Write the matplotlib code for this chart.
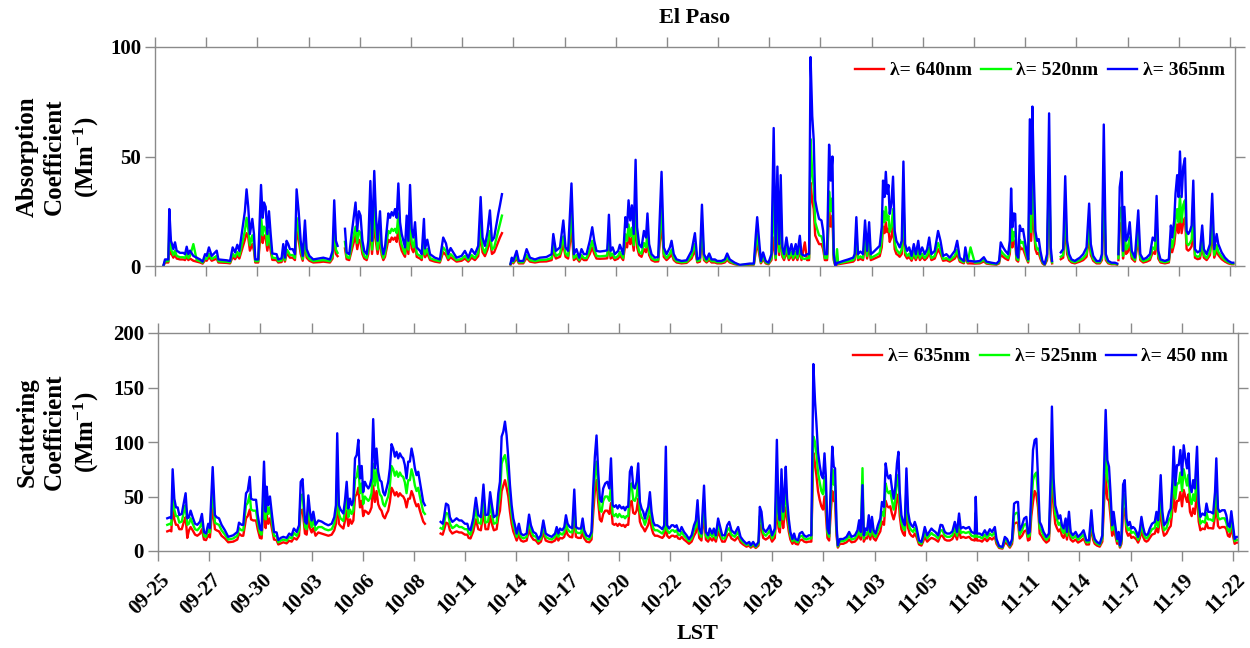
import numpy as np
import matplotlib
matplotlib.use('Agg')
import matplotlib.pyplot as plt
import matplotlib.transforms as mtransforms

nan = np.nan

# days since 09-25 00:00 LST, values in Mm-1
abs_day = [0.45, 0.54, 0.72, 0.77, 0.86, 0.92, 0.99, 1.08, 1.17, 1.35,
           1.53, 1.62, 1.71, 1.80, 1.89, 2.07, 2.25, 2.43, 2.57, 2.70,
           2.79, 2.91, 3.06, 3.33, 3.42, 3.87, 4.05, 4.19, 4.32, 4.44,
           4.55, 4.73, 4.85, 4.94, 5.03, 5.12, 5.25, 5.34, 5.41, 5.57,
           5.72, 5.81, 5.88, 5.97, 6.06, 6.15, 6.24, 6.33, 6.56, 6.65,
           6.83, 6.92, 7.01, 7.10, 7.19, 7.28, 7.43, 7.55, 7.64, 7.75,
           7.86, 7.97, 8.09, 8.18, 8.33, 8.54, 8.90, 9.08, 9.44, 9.58,
           9.67, 9.76, 9.85, 10.05, 10.25, 10.34, 10.48, 10.61, 10.82, 10.91,
           11.00, 11.09, 11.19, 11.29, 11.42, 11.51, 11.62, 11.71, 11.83, 11.92,
           12.01, 12.14, 12.23, 12.32, 12.41, 12.59, 12.68, 12.77, 12.86, 12.95,
           13.04, 13.13, 13.22, 13.31, 13.40, 13.49, 13.58, 13.67, 13.76, 13.85,
           13.94, 14.03, 14.12, 14.30, 14.39, 14.51, 14.57, 14.69, 14.84, 15.10,
           15.37, 15.55, 15.70, 15.82, 15.95, 16.09, 16.27, 16.54, 16.72, 16.90,
           17.08, 17.26, 17.44, 17.57, 17.67, 17.80, 17.94, 18.07, 18.18, 18.30,
           18.52, 18.61, 18.72, 18.95, 19.18, 19.25, 19.33, 19.51, 19.63, 19.87,
           20.05, 20.23, 20.50, 20.76, 21.12, 21.40, 21.49, 21.63, 21.85, 22.03,
           22.15, 22.29, 22.47, 22.60, 22.74, 22.89, 23.01, 23.14, 23.28, 23.46,
           23.59, 23.70, 23.82, 24.00, 24.27, 24.40, 24.49, 24.58, 24.69, 24.81,
           24.99, 25.08, 25.26, 25.38, 25.47, 25.55, 25.64, 25.73, 25.83, 25.93,
           26.01, 26.12, 26.25, 26.38, 26.49, 26.57, 26.66, 26.79, 26.97, 27.15,
           27.33, 27.45, 27.60, 27.78, 27.87, 27.99, 28.14, 28.41, 28.68, 28.86,
           28.95, 29.13, 29.26, 29.40, 29.51, 29.62, 29.76, 29.90, 30.03, 30.21,
           30.33, 30.56, 30.74, 30.87, 31.01, 31.28, 31.55, 31.82, 32.09, 32.31,
           32.42, 32.49, 32.58, 32.69, 32.81, 32.95, 33.10, 33.26, 33.38, 33.49,
           33.58, 33.68, 33.76, 33.85, 33.94, 34.07, 34.20, 34.34, 34.43, 34.57,
           34.66, 34.79, 34.88, 35.06, 35.18, 35.29, 35.37, 35.46, 35.54, 35.62,
           35.72, 35.83, 35.96, 36.05, 36.14, 36.26, 36.37, 36.46, 36.55, 36.62,
           36.71, 36.80, 36.86, 37.13, 37.40, 37.67, 37.75, 37.84, 37.93, 38.06,
           38.20, 38.31, 38.42, 38.53, 38.62, 38.74, 38.92, 39.10, 39.21, 39.28,
           39.36, 39.43, 39.50, 39.57, 39.64, 39.73, 39.82, 39.91, 40.00, 40.09,
           40.18, 40.29, 40.38, 40.47, 40.58, 40.69, 40.82, 40.94, 41.05, 41.18,
           41.27, 41.39, 41.53, 41.66, 41.77, 41.89, 42.07, 42.25, 42.38, 42.52,
           42.70, 42.88, 43.15, 43.28, 43.42, 43.64, 43.72, 43.85, 44.00, 44.23,
           44.50, 44.72, 44.86, 45.13, 45.40, 45.54, 45.63, 45.76, 45.88, 46.03,
           46.12, 46.19, 46.26, 46.33, 46.41, 46.48, 46.57, 46.66, 46.74, 46.83,
           46.93, 47.02, 47.11, 47.20, 47.27, 47.34, 47.41, 47.50, 47.59, 47.68,
           47.77, 47.88, 48.00, 48.13, 48.24, 48.33, 48.40, 48.60, 48.87, 49.00,
           49.11, 49.21, 49.32, 49.45, 49.63, 49.75, 49.90, 50.08, 50.26, 50.40,
           50.49, 50.62, 50.80, 50.98, 51.09, 51.19, 51.30, 51.43, 51.61, 51.79,
           51.91, 51.95, 51.98, 52.05, 52.16, 52.23, 52.30, 52.39, 52.48, 52.59,
           52.70, 52.87, 53.05, 53.16, 53.32, 53.50, 53.68, 53.83, 53.95, 54.04,
           54.13, 54.25, 54.49, 54.70, 54.81, 54.88, 54.99, 55.06, 55.15, 55.22,
           55.30, 55.39, 55.48, 55.57, 55.66, 55.75, 55.84, 55.93, 56.02, 56.11,
           56.25, 56.38, 56.50, 56.59, 56.74, 56.92, 57.04, 57.15, 57.28, 57.37,
           57.55, 57.73, 57.91, 58.09, 58.18]
abs_365 = [0, 3, 3, 26, 11.5, 10, 7.7, 10.8, 7, 6,
           6, 5.4, 8.8, 5.4, 7, 4.6, 3.8, 3, 2, 5.4,
           4.6, 8.5, 4.6, 7, 3, 2.6, 2.3, 8.5, 6.2, 9.7,
           6.9, 17.7, 25, 35, 27, 14.6, 21.5, 14.6, 3, 3,
           37, 22, 29, 27, 14.6, 25, 14.6, 5.7, 5.4, 3,
           3.5, 10, 3.8, 11.5, 10, 7.7, 7.7, 5.4, 35, 25,
           11.5, 4.6, 20.8, 7.7, 4.6, 3, 3.5, 3.8, 3, 6.9,
           30, 11.5, 9.2, nan, 17, 6.2, 5.4, 14.6, 29, 16,
           25, 23, 11.5, 6.9, 5.4, 11.5, 38.8, 11.5, 43.4, 23,
           11.5, 25, 10, 5.4, 8.5, 24, 22, 24.6, 23, 26,
           22, 37.7, 20, 14.6, 11.5, 8.5, 23, 11.5, 37, 17,
           13, 20, 8.5, 6.9, 5.4, 21.5, 8, 12, 5.4, 3.8,
           3, 13, 10.3, 5.4, 8.2, 6.2, 3.8, 4.6, 6.9, 3.8,
           7.7, 5.4, 9.2, 31.5, 13, 9.2, 15.4, 25.4, 11.5, 13,
           23.8, 27.7, 32.8, nan, 1, 3.8, 2.3, 6.9, 2.3, 2.3,
           7.7, 3.8, 3, 3.8, 4.1, 5.4, 14.6, 6.9, 8.5, 20.8,
           8.5, 6.9, 37.7, 5.4, 7.7, 3.8, 7.7, 5.4, 5.4, 11.5,
           17.7, 11.5, 6.9, 6.6, 6.9, 7.2, 23.4, 6.9, 8.5, 5.4,
           6.9, 9.7, 5.4, 22.3, 17.7, 30, 20.8, 27.7, 14.6, 48.5,
           17.7, 10, 8.5, 16, 13, 24, 10, 5.4, 3.8, 4.1,
           43, 8.5, 5.4, 8.5, 11.5, 5.4, 3, 2.3, 2.6, 5.4,
           6.9, 15, 3, 3.8, 28, 5.4, 3, 5.7, 3, 3,
           2.3, 2.3, 3, 5.7, 3, 1.5, 0.5, 0.8, 1.1, 1.1,
           14.6, 22.3, 13, 2.3, 6.2, 2.3, 1.5, 5.4, 63, 5.4,
           45.4, 10, 41.5, 8.5, 5.4, 13, 5.4, 10, 5.4, 10,
           5.4, 13.8, 5.4, 4.6, 5.4, 5.4, 95.4, 68.5, 57.7, 30,
           25.4, 21.5, 20.8, 16, 5.4, 5.4, 55.4, 39, 50, 5.4,
           0, 1.5, 1.5, 2.3, 3, 3.8, 5.4, 22.3, 5.4, 6.6,
           5.4, 20.8, 6.9, 20, 5.4, 6.2, 7.7, 9.2, 17.7, 39,
           31.5, 43, 33, 37, 23.8, 28.5, 40.8, 16, 11.5, 10,
           8.5, 11.5, 47.7, 10, 6.9, 8.5, 4.6, 10, 5.4, 11.5,
           5.4, 8.5, 5.4, 7.7, 13, 5.4, 6.9, 16, 11.5, 4.6,
           5.4, 3.8, 6.9, 11.5, 3.8, 2.3, 8.5, 2.3, 2.3, 2,
           2.3, 4, 2, 1.5, 1.1, 2.3, 10.8, 8.5, 6.9, 5.4,
           11.5, 35.4, 17.7, 24, 23.8, 5.4, 3.8, 18.5, 16, 16.9,
           11.5, 6.9, 3, 67, 23.8, 72.8, 42.3, 16, 11.5, 12.3,
           6.9, 2.3, 0.8, 5.4, 69.7, 8.5, 2.3, nan, 6.2, 7.7,
           41, 11.5, 5.4, 3, 2.3, 3, 3.8, 5.4, 8.5, 28.5,
           10, 4.6, 2.3, 2.3, 5.4, 64.6, 5.4, 2.3, 1.5, 1.5,
           1.1, nan, 5.4, 36, 43, 6.9, 27, 11.5, 13, 20,
           6.9, 3.8, 25.4, 5.4, 3, 3.8, 5.4, 13, 11.5, 32,
           6.9, 3, 2.3, 3, 18.5, 13, 20.8, 33, 41.5, 31.5,
           52.3, 31.5, 45.4, 49.2, 16, 14.6, 16, 18.5, 39, 7.7,
           6.2, 6.9, 18.5, 7.7, 5.4, 10, 33, 7.7, 14.6, 10,
           6.2, 3.8, 2.3, 1.5, 1.5]
abs_520 = [0, 2.2, 2.2, 17, 7.5, 6.5, 5, 7, 4.6, 4,
           4, 3.6, 5.8, 3.6, 4.6, 10, 2.7, 2.2, 1.5, 3.6,
           3.2, 5.6, 3.2, 4.6, 2.2, 1.9, 1.7, 5.6, 4.2, 6.4,
           4.6, 11.5, 16, 22, 17, 9.5, 14, 9.5, 2.2, 2.2,
           23, 14, 18, 17, 9.5, 16, 9.5, 3.8, 3.6, 2.2,
           2.5, 6.5, 2.7, 7.5, 6.5, 5, 5, 3.6, 22, 16,
           7.5, 3.2, 13.5, 5, 3.2, 2.2, 2.5, 2.7, 2.2, 4.6,
           19, 7.5, 6, nan, 11, 4.2, 3.6, 9.5, 18, 10.5,
           16, 15, 7.5, 4.6, 3.6, 7.5, 24, 7.5, 27, 15,
           7.5, 16, 6.5, 3.6, 5.6, 16, 15, 17, 16, 17,
           15, 24, 13, 9.5, 7.5, 5.6, 15, 7.5, 23, 11,
           8.5, 13, 5.6, 4.6, 3.6, 14, 5.3, 7.8, 3.6, 2.7,
           2.2, 8.5, 6.8, 3.6, 5.4, 4.2, 2.7, 3.2, 4.6, 2.7,
           5, 3.6, 6, 20, 8.5, 6, 10, 16, 7.5, 8.5,
           16, 19, 23, nan, 0.8, 2.7, 1.7, 4.6, 1.7, 1.7,
           5, 2.7, 2.2, 2.7, 2.9, 3.6, 9.5, 4.6, 5.6, 13.5,
           5.6, 4.6, 24, 3.6, 5, 2.7, 5, 3.6, 3.6, 7.5,
           11.5, 7.5, 4.6, 4.4, 4.6, 4.8, 15, 4.6, 5.6, 3.6,
           4.6, 6.4, 3.6, 14.5, 11.5, 19, 13.5, 17.5, 9.5, 30,
           11.5, 6.5, 5.6, 10.5, 8.5, 15.5, 6.5, 3.6, 2.7, 2.9,
           27, 5.6, 3.6, 5.6, 7.5, 3.6, 2.2, 1.7, 1.9, 3.6,
           4.6, 10, 2.2, 2.7, 18, 3.6, 2.2, 3.8, 2.2, 2.2,
           1.7, 1.7, 2.2, 3.8, 2.2, 1.1, 0.4, 0.6, 0.8, 0.8,
           9.5, 14.5, 8.5, 1.7, 4.2, 1.7, 1.1, 3.6, 30, 3.6,
           28, 6.5, 26, 5.6, 3.6, 8.5, 3.6, 6.5, 3.6, 6.5,
           3.6, 9, 3.6, 3.2, 3.6, 3.6, 58, 42, 36, 20,
           17, 14, 13.5, 10.5, 3.6, 3.6, 34, 25, 31, 3.6,
           0, 7.7, 1.1, 1.7, 2.2, 2.7, 3.6, 14.5, 3.6, 4.4,
           3.6, 13.5, 4.6, 13, 3.6, 4.2, 5, 6, 11.5, 25,
           20, 27, 21, 23, 15.5, 18, 26, 10.5, 7.5, 6.5,
           5.6, 7.5, 30, 6.5, 4.6, 5.6, 3.2, 6.5, 3.6, 7.5,
           3.6, 5.6, 3.6, 5, 8.5, 3.6, 4.6, 10.5, 7.5, 3.2,
           3.6, 2.7, 4.6, 7.5, 2.7, 1.7, 5.6, 1.7, 8.5, 1.5,
           1.7, 2.9, 1.5, 1.1, 0.8, 1.7, 7, 5.6, 4.6, 3.6,
           7.5, 22, 11.5, 15.5, 15.5, 3.6, 2.7, 12, 10.5, 11,
           7.5, 4.6, 2.2, 40, 15.5, 44, 27, 10.5, 7.5, 8,
           4.6, 1.7, 0.6, 3.6, 46, 5.6, 1.7, nan, 4.2, 5,
           26, 7.5, 3.6, 2.2, 1.7, 2.2, 2.7, 3.6, 5.6, 18,
           6.5, 3.2, 1.7, 1.7, 3.6, 39, 3.6, 1.7, 1.1, 1.1,
           0.8, nan, 3.6, 23, 27, 4.6, 17, 7.5, 8.5, 13,
           4.6, 2.7, 16, 3.6, 2.2, 2.7, 3.6, 8.5, 7.5, 20,
           4.6, 2.2, 1.7, 2.2, 12, 8.5, 13.5, 21, 26, 20,
           32, 20, 28, 30, 10.5, 9.5, 10.5, 12, 25, 5,
           4.2, 4.6, 12, 5, 3.6, 6.5, 21, 5, 9.5, 6.5,
           4.2, 2.7, 1.7, 1.1, 1.1]
abs_640 = [0, 1.6, 1.6, 12, 5.5, 5, 3.8, 5.2, 3.4, 3,
           3, 2.7, 4.3, 2.7, 3.4, 2.4, 2, 1.6, 1.1, 2.7,
           2.4, 4.2, 2.4, 3.4, 1.6, 1.4, 1.2, 4.2, 3.1, 4.8,
           3.4, 8.5, 12, 15, 13, 7, 10, 7, 1.6, 1.6,
           18, 10.5, 14, 13, 7, 12, 7, 2.8, 2.7, 1.6,
           1.8, 5, 2, 5.5, 5, 3.8, 3.8, 2.7, 16, 12,
           5.5, 2.4, 10, 3.8, 2.4, 1.6, 1.8, 2, 1.6, 3.4,
           14, 5.5, 4.5, nan, 8, 3.1, 2.7, 7, 14, 7.7,
           12, 11, 5.5, 3.4, 2.7, 5.5, 18, 5.5, 20, 11,
           5.5, 12, 5, 2.7, 4.2, 12, 11, 13, 12, 13,
           11, 17, 10, 7, 5.5, 4.2, 11, 5.5, 17, 8,
           6.3, 10, 4.2, 3.4, 2.7, 10, 4, 5.8, 2.7, 2,
           1.6, 6.3, 5, 2.7, 4, 3.1, 2, 2.4, 3.4, 2,
           3.8, 2.7, 4.5, 15, 6.3, 4.5, 7.5, 12, 5.5, 6.3,
           11, 13, 15, nan, 0.6, 2, 1.2, 3.4, 1.2, 1.2,
           3.8, 2, 1.6, 2, 2.1, 2.7, 7, 3.4, 4.2, 10,
           4.2, 3.4, 17, 2.7, 3.8, 2, 3.8, 2.7, 2.7, 5.5,
           8.5, 5.5, 3.4, 3.3, 3.4, 3.5, 11, 3.4, 4.2, 2.7,
           3.4, 4.8, 2.7, 10.5, 8.5, 14, 10, 13, 7, 22,
           8.5, 5, 4.2, 7.7, 6.3, 11.5, 5, 2.7, 2, 2.1,
           20, 4.2, 2.7, 4.2, 5.5, 2.7, 1.6, 1.2, 1.4, 2.7,
           3.4, 7.3, 1.6, 2, 13, 2.7, 1.6, 2.8, 1.6, 1.6,
           1.2, 1.2, 1.6, 2.8, 1.6, 0.8, 0.3, 0.4, 0.6, 0.6,
           7, 10.5, 6.3, 1.2, 3.1, 1.2, 0.8, 2.7, 13, 2.7,
           20, 5, 19, 4.2, 2.7, 6.3, 2.7, 5, 2.7, 5,
           2.7, 6.7, 2.7, 10.8, 2.7, 2.7, 38, 30, 26, 14,
           12, 10, 10, 7.7, 2.7, 2.7, 25, 18, 23, 2.7,
           0, 0.8, 0.8, 1.2, 1.6, 2, 2.7, 10.5, 2.7, 3.3,
           2.7, 10, 3.4, 9.5, 2.7, 3.1, 3.8, 4.5, 8.5, 18,
           15, 20, 15.5, 17, 11, 13, 19, 7.7, 5.5, 5,
           4.2, 5.5, 22, 5, 3.4, 4.2, 2.4, 5, 2.7, 5.5,
           2.7, 4.2, 2.7, 3.8, 6.3, 2.7, 3.4, 7.7, 5.5, 2.4,
           2.7, 2, 3.4, 5.5, 2, 1.2, 4.2, 1.2, 1.2, 1.1,
           1.2, 2.1, 1.1, 0.8, 0.6, 1.2, 5.2, 4.2, 3.4, 2.7,
           5.5, 16, 8.5, 11.5, 11.5, 2.7, 2, 9, 7.7, 8,
           5.5, 3.4, 1.6, 22, 11.5, 24, 19, 7.7, 5.5, 6,
           3.4, 1.2, 0.4, 2.7, 38, 4.2, 1.2, nan, 3.1, 3.8,
           19, 5.5, 2.7, 1.6, 1.2, 1.6, 2, 2.7, 4.2, 13,
           5, 2.4, 1.2, 1.2, 2.7, 28, 2.7, 1.2, 0.8, 0.8,
           0.6, nan, 2.7, 17, 20, 3.4, 13, 5.5, 6.3, 9.5,
           3.4, 2, 12, 2.7, 1.6, 2, 2.7, 6.3, 5.5, 15,
           3.4, 1.6, 1.2, 1.6, 9, 6.3, 10, 15.5, 19, 15,
           23, 15, 20, 22, 7.7, 7, 7.7, 9, 18, 3.8,
           3.1, 3.4, 9, 3.8, 2.7, 5, 15.5, 3.8, 7, 5,
           3.1, 2, 1.2, 0.8, 0.8]

sca_day = [0.50, 0.65, 0.72, 0.79, 0.88, 0.97, 1.06, 1.15, 1.28, 1.40,
           1.49, 1.58, 1.67, 1.76, 1.87, 2.00, 2.12, 2.27, 2.37, 2.48,
           2.59, 2.71, 2.80, 2.95, 3.07, 3.16, 3.29, 3.43, 3.61, 3.79,
           4.06, 4.28, 4.37, 4.51, 4.60, 4.75, 4.84, 4.95, 5.02, 5.14,
           5.29, 5.38, 5.50, 5.59, 5.72, 5.81, 5.86, 5.95, 6.04, 6.15,
           6.26, 6.40, 6.49, 6.62, 6.76, 6.94, 7.08, 7.21, 7.33, 7.48,
           7.61, 7.70, 7.80, 7.93, 8.02, 8.11, 8.20, 8.29, 8.38, 8.50,
           8.65, 8.83, 9.01, 9.19, 9.37, 9.51, 9.60, 9.67, 9.76, 9.85,
           10.00, 10.09, 10.18, 10.27, 10.36, 10.45, 10.54, 10.63, 10.72, 10.81,
           10.90, 10.99, 11.07, 11.16, 11.25, 11.35, 11.43, 11.52, 11.61, 11.70,
           11.79, 11.88, 11.97, 12.06, 12.15, 12.24, 12.33, 12.42, 12.51, 12.60,
           12.69, 12.78, 12.87, 12.96, 13.05, 13.14, 13.23, 13.32, 13.41, 13.50,
           13.59, 13.68, 13.77, 13.86, 13.95, 14.04, 14.13, 14.22, 14.31, 14.40,
           14.80, 15.25, 15.36, 15.43, 15.54, 15.66, 15.75, 15.88, 15.98, 16.11,
           16.25, 16.38, 16.56, 16.69, 16.76, 16.86, 17.01, 17.15, 17.28, 17.42,
           17.56, 17.67, 17.81, 17.92, 18.03, 18.12, 18.27, 18.36, 18.45, 18.54,
           18.63, 18.72, 18.81, 18.90, 18.99, 19.08, 19.17, 19.26, 19.35, 19.47,
           19.58, 19.71, 19.89, 20.02, 20.12, 20.25, 20.39, 20.52, 20.66, 20.79,
           20.92, 21.06, 21.24, 21.42, 21.51, 21.60, 21.69, 21.81, 21.92, 22.01,
           22.10, 22.22, 22.35, 22.46, 22.55, 22.67, 22.82, 22.91, 23.00, 23.12,
           23.27, 23.39, 23.48, 23.57, 23.66, 23.75, 23.84, 23.93, 24.02, 24.13,
           24.24, 24.35, 24.44, 24.53, 24.62, 24.71, 24.80, 24.89, 25.02, 25.11,
           25.20, 25.28, 25.37, 25.46, 25.55, 25.64, 25.73, 25.82, 25.91, 26.00,
           26.09, 26.18, 26.27, 26.36, 26.45, 26.54, 26.63, 26.72, 26.81, 26.94,
           27.08, 27.21, 27.31, 27.40, 27.47, 27.58, 27.71, 27.80, 27.89, 27.98,
           28.07, 28.16, 28.25, 28.38, 28.52, 28.65, 28.79, 28.92, 29.02, 29.11,
           29.20, 29.32, 29.46, 29.56, 29.68, 29.77, 29.90, 29.99, 30.10, 30.22,
           30.31, 30.44, 30.58, 30.71, 30.82, 30.94, 31.12, 31.30, 31.43, 31.57,
           31.75, 31.90, 31.98, 32.11, 32.25, 32.40, 32.47, 32.56, 32.65, 32.79,
           32.92, 33.01, 33.13, 33.28, 33.39, 33.48, 33.55, 33.64, 33.73, 33.80,
           33.87, 33.94, 34.03, 34.12, 34.23, 34.32, 34.40, 34.53, 34.62, 34.75,
           34.86, 34.98, 35.11, 35.25, 35.36, 35.45, 35.52, 35.61, 35.70, 35.79,
           35.88, 35.96, 36.03, 36.12, 36.21, 36.30, 36.38, 36.46, 36.53, 36.61,
           36.68, 36.79, 36.97, 37.15, 37.29, 37.42, 37.60, 37.74, 37.83, 37.92,
           38.01, 38.08, 38.17, 38.26, 38.35, 38.43, 38.52, 38.61, 38.72, 38.84,
           38.97, 39.06, 39.17, 39.26, 39.35, 39.42, 39.51, 39.60, 39.69, 39.78,
           39.87, 39.95, 40.02, 40.11, 40.20, 40.29, 40.38, 40.47, 40.56, 40.65,
           40.74, 40.83, 40.92, 41.06, 41.19, 41.28, 41.37, 41.50, 41.61, 41.73,
           41.82, 41.94, 42.09, 42.22, 42.32, 42.45, 42.57, 42.72, 42.86, 42.99,
           43.11, 43.22, 43.31, 43.44, 43.58, 43.76, 43.89, 44.07, 44.12, 44.19,
           44.34, 44.46, 44.61, 44.73, 44.88, 45.00, 45.15, 45.24, 45.38, 45.56,
           45.69, 45.81, 45.96, 46.08, 46.19, 46.31, 46.40, 46.49, 46.62, 46.73,
           46.85, 46.94, 47.03, 47.12, 47.21, 47.30, 47.39, 47.48, 47.57, 47.66,
           47.78, 47.93, 48.07, 48.16, 48.23, 48.32, 48.41, 48.50, 48.59, 48.68,
           48.77, 48.86, 48.97, 49.04, 49.15, 49.24, 49.36, 49.51, 49.64, 49.82,
           49.94, 50.09, 50.23, 50.36, 50.45, 50.54, 50.66, 50.81, 50.95, 51.04,
           51.13, 51.22, 51.31, 51.39, 51.48, 51.56, 51.65, 51.75, 51.83, 51.90,
           51.98, 52.07, 52.16, 52.25, 52.34, 52.43, 52.52, 52.61, 52.70, 52.79,
           52.88, 52.97, 53.06, 53.15, 53.24, 53.33, 53.42, 53.51, 53.63, 53.78,
           53.87, 53.96, 54.01, 54.10, 54.19, 54.28, 54.41, 54.55, 54.64, 54.73,
           54.80, 54.89, 54.98, 55.07, 55.16, 55.25, 55.34, 55.43, 55.52, 55.60,
           55.68, 55.77, 55.85, 55.94, 56.06, 56.15, 56.24, 56.35, 56.48, 56.57,
           56.66, 56.78, 56.93, 57.03, 57.10, 57.19, 57.28, 57.41, 57.55, 57.64,
           57.73, 57.82, 57.91, 58.00, 58.09, 58.18, 58.27]
sca_450 = [30, 31, 30, 75, 48, 40, 40, 33, 34, 45,
           53, 30, 31, 37, 31, 25, 24, 27, 34, 17.5,
           16, 25, 21, 77, 33, 31, 30, 24, 19, 13,
           14.4, 17.5, 26, 24, 24, 53, 55, 68, 48, 47,
           47, 33, 20.6, 19, 82, 36, 59, 42, 50, 33,
           17.5, 17, 10, 12, 13, 12, 16, 14.4, 20.6, 17.5,
           23.6, 63.5, 66, 27, 25, 51, 36, 28, 36, 24,
           28, 27, 25, 23.6, 25, 31, 42, 108, 42, 38,
           34.4, 46.6, 63.5, 39, 48, 42, 46.6, 85, 88, 102,
           66.6, 78, 54, 63.5, 60, 57.4, 60, 66.6, 121, 75.8,
           94, 72.7, 65, 63.5, 54, 51, 57.4, 63.5, 75.8, 98,
           94, 86.5, 91, 85, 89.6, 86.5, 85, 78.8, 66.6, 82,
           82, 94, 86.5, 75.8, 69.6, 72.7, 63.5, 54, 45, 42,
           nan, 26.7, 25, 31, 43.5, 42, 31, 26.7, 28, 30,
           28, 28, 25, 25, 20.6, 19, 30, 48.8, 33, 31,
           61, 33, 33.4, 54, 40.5, 31, 33, 52.8, 63.5, 105,
           109.5, 118.7, 106, 85, 60.4, 42, 29.8, 23.6, 16, 25,
           16, 14.4, 16, 33.4, 23.6, 17.5, 16, 11, 14.4, 28,
           16, 14.4, 13, 16, 22, 16, 20.6, 19, 22, 32.8,
           25, 22, 21, 56.4, 22, 20.6, 20.6, 29.8, 19, 14.4,
           13, 17.5, 57.4, 86.5, 106, 72.7, 48, 45, 57.4, 62,
           63.5, 57.4, 85, 42, 40.5, 42, 39, 42, 39, 40.5,
           37.4, 40.5, 40.5, 72.7, 77.3, 58.9, 57.4, 63.5, 80.4, 45,
           39, 36, 29.8, 36, 40.5, 54, 36, 26.7, 23.6, 23.6,
           22, 20, 23.6, 95.7, 23.6, 20.6, 23.6, 23.6, 22, 23.6,
           19, 18, 22, 17.5, 14.4, 11, 14.4, 23.6, 28, 46.6,
           20.6, 16, 60, 17.5, 14.4, 20.6, 16, 20.6, 14.4, 29.8,
           23.6, 14.4, 14.4, 23.6, 26.7, 19, 16, 22, 13, 9.8,
           6.7, 8.3, 5.2, 8.3, 4.6, 8.3, 40.5, 36, 20.6, 17.5,
           20.6, 23.6, 14.4, 20.6, 102, 36, 28.2, 75, 36, 54,
           77.3, 48, 29.8, 17.5, 11, 16, 11, 9.8, 16, 17.5,
           14.4, 13, 14.4, 14.4, 171.5, 137, 118.7, 91, 78.8, 69.6,
           66.6, 89.6, 69.6, 20.6, 16, 60.4, 95.7, 77.3, 75.8, 23.6,
           5.2, 11, 11, 13, 17.5, 13, 14.4, 19, 28.2, 17.5,
           60.4, 14.4, 20.6, 19, 32.8, 17.5, 31.3, 19, 16, 23.6,
           29.8, 45, 40.5, 80.4, 69.6, 66.6, 69.6, 57.4, 48, 58.9,
           80.4, 91, 54, 32.8, 26.7, 23.6, 75.8, 35.9, 26.7, 23.6,
           22, 26.7, 22, 9.8, 8.3, 14.4, 22, 14.4, 17.5, 20.6,
           19, 17.5, 14.4, 24, 23.6, 17.5, 16, 16, 18, 26.7,
           17.5, 34.4, 20.6, 22, 20.6, 22, 17.5, 16, 49.7, 16,
           16, 14.4, 19, 15, 20, 17.5, 22, 11, 4.6, 3.7,
           12.9, 11, 5.2, 11, 43.5, 45, 45, 19, 23.6, 29.8,
           31.3, 16, 17.5, 54, 92.6, 101.8, 103, 66.6, 26.7, 23.6,
           17.5, 12.9, 16, 66.6, 132.5, 66.6, 42, 35.9, 29.8, 32.8,
           23.6, 20.6, 29.8, 17.5, 36, 17.5, 14.4, 17.5, 12.9, 16,
           19, 9.8, 9.8, 37.4, 17.5, 11, 8.3, 6.7, 14.4, 72.7,
           129.4, 83.4, 77.3, 54, 23.6, 35.9, 23.6, 11, 17.5, 5.2,
           11, 61, 65, 29.8, 23.6, 26.7, 20.6, 22, 20.6, 17.5,
           12.9, 19, 31.3, 22, 16, 14.4, 16, 20.6, 25, 26.7,
           35.9, 28.2, 39, 69.6, 35.9, 23.6, 26.7, 35.9, 39, 63.5,
           95.7, 60.4, 78.8, 78.8, 92.6, 69.6, 97, 85, 75.8, 89.6,
           60.4, 54, 65, 57.4, 95.7, 45, 31.3, 34.4, 32.8, 43.5,
           35.9, 35.9, 34.4, 54, 85, 39, 35.9, 37.4, 37.4, 32.8,
           23.6, 22, 36.5, 23.6, 11, 12.9, 12.9]
sca_525 = [24, 25, 24, 55, 38, 32, 32, 26, 27, 36,
           42, 24, 25, 30, 25, 20, 19, 22, 27, 14,
           13, 20, 17, 58, 26, 25, 24, 19, 15, 10.5,
           11.5, 14, 21, 19, 19, 42, 44, 52, 38, 37,
           37, 26, 16.5, 15, 60, 29, 46, 34, 40, 26,
           14, 13.5, 8, 9.5, 10.5, 9.5, 13, 11.5, 16.5, 14,
           19, 50, 52, 22, 20, 40, 29, 22, 29, 19,
           22, 22, 20, 19, 20, 25, 34, 70, 34, 30,
           27.5, 37, 50, 31, 38, 34, 37, 66, 68, 78,
           53, 62, 43, 50, 48, 46, 48, 53, 80, 60,
           75, 58, 52, 50, 43, 41, 46, 50, 60, 78,
           75, 69, 73, 68, 72, 69, 68, 63, 53, 65,
           65, 75, 69, 60, 55, 58, 50, 43, 36, 34,
           nan, 21, 20, 25, 35, 34, 25, 21, 22, 24,
           22, 22, 20, 20, 16.5, 15, 24, 39, 26, 25,
           48, 26, 27, 43, 32, 25, 26, 42, 50, 80,
           85, 88, 80, 66, 48, 34, 24, 19, 13, 20,
           13, 11.5, 13, 27, 19, 14, 13, 9, 11.5, 22,
           13, 11.5, 10.5, 13, 17.5, 13, 16.5, 15, 17.5, 26,
           20, 17.5, 17, 40, 17.5, 16.5, 16.5, 24, 15, 11.5,
           10.5, 14, 46, 69, 82, 58, 38, 36, 46, 50,
           50, 46, 60, 34, 32, 34, 31, 34, 31, 32,
           30, 32, 32, 58, 62, 47, 46, 50, 64, 36,
           31, 29, 24, 29, 32, 43, 29, 21, 19, 19,
           17.5, 16, 19, 35, 19, 16.5, 19, 19, 17.5, 19,
           15, 14.5, 17.5, 14, 11.5, 9, 11.5, 19, 22, 37,
           16.5, 13, 45, 14, 11.5, 16.5, 13, 16.5, 11.5, 24,
           19, 11.5, 11.5, 19, 21, 15, 13, 17.5, 10.5, 8,
           5.5, 6.7, 4.2, 6.7, 3.7, 6.7, 32, 29, 16.5, 14,
           16.5, 19, 11.5, 16.5, 60, 29, 22, 55, 29, 43,
           58, 38, 24, 14, 9, 13, 9, 8, 13, 14,
           11.5, 10.5, 11.5, 11.5, 105, 100, 90, 72, 63, 55,
           52, 68, 55, 16.5, 13, 48, 75, 61, 60, 19,
           4.2, 9, 9, 10.5, 14, 10.5, 11.5, 15, 22, 14,
           76, 11.5, 16.5, 15, 26, 14, 25, 15, 13, 19,
           24, 36, 32, 62, 55, 53, 55, 46, 38, 47,
           64, 70, 43, 26, 21, 19, 58, 29, 21, 19,
           17.5, 21, 17.5, 8, 6.7, 11.5, 17.5, 11.5, 14, 16.5,
           15, 14, 11.5, 19, 19, 14, 13, 13, 14.5, 21,
           14, 27.5, 16.5, 17.5, 16.5, 17.5, 14, 13, 35, 13,
           13, 11.5, 15, 12, 16, 14, 17.5, 9, 3.7, 3,
           10.3, 9, 4.2, 9, 33, 35, 35, 15, 19, 24,
           25, 13, 14, 43, 65, 70, 72, 53, 21, 19,
           14, 10.3, 13, 50, 95, 53, 34, 29, 24, 26,
           19, 16.5, 24, 14, 29, 14, 11.5, 14, 10.3, 13,
           15, 8, 8, 29, 14, 9, 6.7, 5.5, 11.5, 58,
           95, 66, 61, 43, 19, 29, 19, 9, 14, 4.2,
           9, 48, 52, 24, 19, 21, 16.5, 17.5, 16.5, 14,
           10.3, 15, 25, 17.5, 13, 11.5, 13, 16.5, 20, 21,
           29, 22, 31, 55, 29, 19, 21, 29, 31, 50,
           70, 48, 62, 62, 72, 55, 75, 67, 60, 70,
           48, 43, 52, 46, 72, 36, 25, 27.5, 26, 35,
           29, 29, 27.5, 43, 60, 31, 29, 30, 30, 26,
           19, 17.5, 29, 19, 9, 10.3, 10.3]
sca_635 = [18, 19, 18, 43, 29, 24, 24, 20, 20, 27,
           31, 12, 19, 22, 19, 15, 14, 16, 20, 10.5,
           10, 15, 12.5, 42, 20, 19, 18, 14, 11.5, 8,
           8.6, 10.5, 16, 14, 14, 30, 32, 38, 29, 28,
           28, 20, 12, 11.5, 45, 21, 34, 25, 30, 20,
           10.5, 10, 6, 7, 8, 7, 9.5, 8.6, 12, 10.5,
           14, 37, 38, 16, 15, 30, 21, 17, 21, 14,
           17, 16, 15, 14, 15, 19, 25, 55, 25, 23,
           20.6, 28, 37, 23, 29, 25, 28, 50, 52, 58,
           40, 46, 32, 37, 36, 34, 36, 40, 60, 45,
           55, 43, 39, 37, 32, 30, 34, 37, 45, 58,
           55, 51, 54, 50, 53, 51, 50, 47, 40, 48,
           48, 55, 51, 45, 41, 43, 37, 32, 27, 25,
           nan, 16, 15, 19, 26, 25, 19, 16, 17, 18,
           17, 17, 15, 15, 12, 11.5, 18, 29, 20, 19,
           36, 20, 20, 32, 24, 19, 20, 31, 37, 55,
           60, 65, 58, 50, 36, 25, 18, 14, 9.6, 15,
           9.6, 8.6, 9.6, 20, 14, 10.5, 9.6, 6.6, 8.6, 17,
           9.6, 8.6, 8, 9.6, 13, 9.6, 12, 11.5, 13, 20,
           15, 13, 12.5, 30, 13, 12, 12, 18, 11.5, 8.6,
           8, 10.5, 34, 55, 65, 45, 29, 27, 34, 37,
           37, 34, 44, 25, 24, 25, 23, 25, 23, 24,
           22, 24, 24, 43, 46, 35, 34, 37, 48, 27,
           23, 21, 18, 21, 24, 32, 21, 16, 14, 14,
           13, 12, 14, 25, 14, 12, 14, 14, 13, 14,
           11.5, 11, 13, 10.5, 8.6, 6.6, 8.6, 14, 17, 28,
           12, 9.6, 34, 10.5, 8.6, 12, 9.6, 12, 8.6, 18,
           14, 8.6, 8.6, 14, 16, 11.5, 9.6, 13, 8, 6,
           4, 5, 3.1, 5, 2.8, 5, 24, 21, 12, 10.5,
           12, 14, 8.6, 12, 42, 21, 17, 40, 21, 32,
           40, 29, 18, 10.5, 6.6, 9.6, 6.6, 6, 9.6, 10.5,
           8.6, 8, 8.6, 8.6, 90, 80, 70, 55, 47, 41,
           38, 50, 35, 12, 9.6, 36, 55, 46, 45, 14,
           3.1, 6.6, 6.6, 8, 10.5, 8, 8.6, 11.5, 17, 10.5,
           45, 8.6, 12, 11.5, 20, 10.5, 19, 11.5, 9.6, 14,
           18, 27, 24, 46, 41, 40, 41, 34, 29, 35,
           48, 52, 32, 20, 16, 14, 43, 21, 16, 14,
           13, 16, 13, 6, 5, 8.6, 13, 8.6, 10.5, 12,
           11.5, 10.5, 8.6, 14, 14, 10.5, 9.6, 9.6, 11, 16,
           10.5, 20, 12, 13, 12, 13, 10.5, 9.6, 28, 9.6,
           9.6, 8.6, 11.5, 9, 12, 10.5, 13, 6.6, 2.8, 2.2,
           7.7, 6.6, 3.1, 6.6, 25, 26, 26, 11.5, 14, 18,
           19, 9.6, 10.5, 32, 45, 55, 52, 40, 16, 14,
           10.5, 7.7, 9.6, 37, 70, 40, 25, 21, 18, 20,
           14, 12, 18, 10.5, 21, 10.5, 8.6, 10.5, 7.7, 9.6,
           11.5, 6, 6, 22, 10.5, 6.6, 5, 4, 8.6, 43,
           70, 48, 46, 32, 14, 21, 14, 6.6, 10.5, 3.1,
           6.6, 36, 39, 18, 14, 16, 12, 13, 12, 10.5,
           7.7, 11.5, 19, 13, 9.6, 8.6, 9.6, 12, 15, 16,
           21, 17, 23, 41, 21, 14, 16, 21, 23, 37,
           52, 36, 46, 46, 54, 41, 56, 50, 45, 52,
           36, 32, 39, 34, 54, 27, 19, 20.6, 20, 26,
           21, 21, 20.6, 32, 44, 23, 21, 22, 22, 20,
           14, 13, 22, 14, 6.6, 7.7, 7.7]

tick_labels = ['09-25', '09-27', '09-30', '10-03', '10-06', '10-08', '10-11',
               '10-14', '10-17', '10-20', '10-22', '10-25', '10-28', '10-31',
               '11-03', '11-05', '11-08', '11-11', '11-14', '11-17', '11-19',
               '11-22']
abs_labels = ['λ= 640nm', 'λ= 520nm', 'λ= 365nm']
sca_labels = ['λ= 635nm', 'λ= 525nm', 'λ= 450 nm']

plt.rcParams['font.family'] = ['Liberation Serif', 'DejaVu Serif']
plt.rcParams['font.weight'] = 'bold'
plt.rcParams['mathtext.fontset'] = 'custom'
plt.rcParams['mathtext.rm'] = 'Liberation Serif:bold'
plt.rcParams['mathtext.default'] = 'rm'

colors = ['#ff0000', '#00ff00', '#0000ff']
ticks = np.linspace(0, 58, len(tick_labels))

fig = plt.figure(figsize=(12.5, 6.48), dpi=100)
ax1 = fig.add_axes([155 / 1250, 1 - 266 / 648, 1080 / 1250, 219 / 648])
ax2 = fig.add_axes([158 / 1250, 1 - 551 / 648, 1080 / 1250, 218 / 648])

for ax, day, series, labels in [
        (ax1, abs_day, [abs_640, abs_520, abs_365], abs_labels),
        (ax2, sca_day, [sca_635, sca_525, sca_450], sca_labels)]:
    for y, c, lab in zip(series, colors, labels):
        ax.plot(day, y, color=c, lw=1.7, label=lab)
    ax.set_xlim(0, 58.27)
    ax.set_xticks(ticks)
    for s in ax.spines.values():
        s.set_color('#8a8a8a')
        s.set_linewidth(1.0)
    ax.tick_params(direction='out', length=7, width=1.0, colors='#8a8a8a',
                   labelcolor='black', labelsize=15, top=True, right=True, pad=3)
    ax.legend(ncol=3, frameon=False, loc='center right', borderaxespad=0,
              borderpad=0, handlelength=1.5, handletextpad=0.3,
              columnspacing=0.5, prop={'size': 14, 'weight': 'bold'},
              bbox_to_anchor=(0.991, 0.892))

ax1.set_ylim(0, 100)
ax1.set_yticks([0, 50, 100])
ax1.set_xticklabels([])
ax2.set_ylim(0, 200)
ax2.set_yticks([0, 50, 100, 150, 200])
ax2.set_xticklabels(tick_labels, rotation=45, ha='right', va='center',
                    rotation_mode='anchor')
ax2.tick_params(axis='x', pad=12)
shift = mtransforms.ScaledTranslation(9 / 100, 0, fig.dpi_scale_trans)
for lab in ax2.get_xticklabels():
    lab.set_transform(lab.get_transform() + shift)

fig.text(695 / 1250, 1 - 18 / 648, 'El Paso', ha='center', va='center',
         fontsize=16, fontweight='bold')
fig.text(698 / 1250, 1 - 634 / 648, 'LST', ha='center', va='center',
         fontsize=16, fontweight='bold')
fig.text(58 / 1250, 1 - 157 / 648, 'Absorption\nCoefficient\n(Mm$^{-1}$)',
         rotation=90, ha='center', va='center', fontsize=18,
         fontweight='bold', linespacing=1.25, multialignment='center')
fig.text(58 / 1250, 1 - 432 / 648, 'Scattering\nCoefficient\n(Mm$^{-1}$)',
         rotation=90, ha='center', va='center', fontsize=18,
         fontweight='bold', linespacing=1.25, multialignment='center')

fig.savefig('out.png', dpi=100)
